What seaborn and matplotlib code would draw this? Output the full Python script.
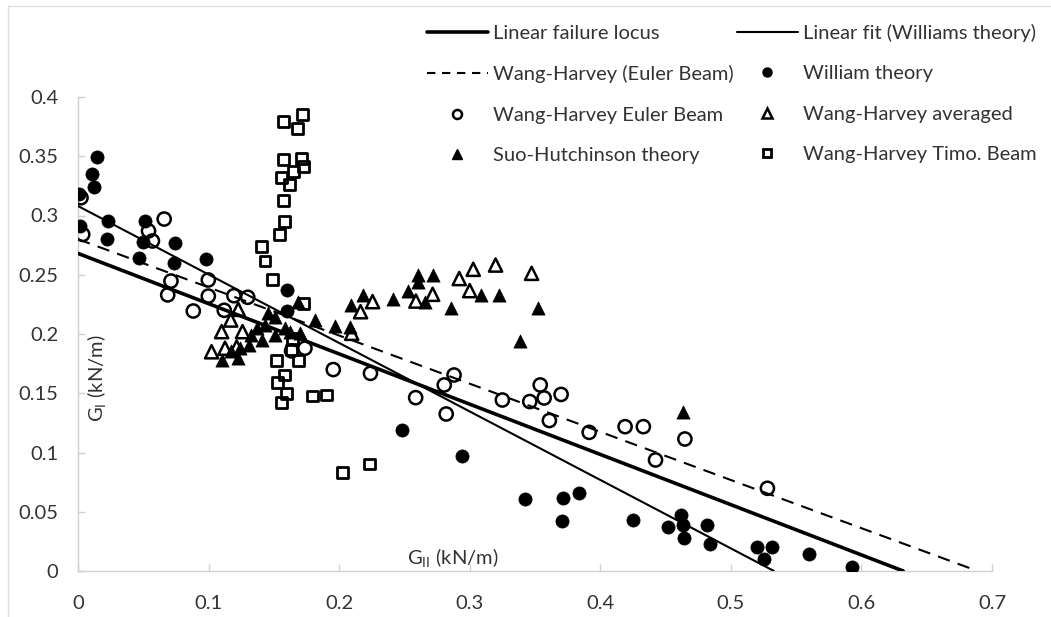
import matplotlib
matplotlib.use("Agg")
import matplotlib.pyplot as plt
from matplotlib.lines import Line2D
import seaborn as sns

# ---- series data (G_II, G_I) in kN/m ----
william_x = [0.001, 0.0015, 0.0105, 0.0145, 0.0123, 0.023, 0.0225, 0.0467, 0.051, 0.050,
             0.0743, 0.0738, 0.0978, 0.160, 0.160, 0.248, 0.294, 0.342, 0.3716, 0.384,
             0.371, 0.4252, 0.452, 0.4617, 0.463, 0.464, 0.482, 0.484, 0.520, 0.5316,
             0.5255, 0.5597, 0.593]
william_y = [0.318, 0.291, 0.335, 0.349, 0.324, 0.295, 0.280, 0.264, 0.295, 0.278,
             0.2765, 0.260, 0.263, 0.237, 0.219, 0.119, 0.097, 0.061, 0.062, 0.0655,
             0.042, 0.043, 0.0374, 0.0473, 0.0388, 0.028, 0.039, 0.0225, 0.020, 0.020,
             0.010, 0.0143, 0.003]

euler_x = [0.0023, 0.0036, 0.066, 0.054, 0.057, 0.0712, 0.0687, 0.0998, 0.0998, 0.0883,
           0.112, 0.1194, 0.130, 0.1636, 0.1738, 0.1955, 0.224, 0.2586, 0.2805, 0.288,
           0.282, 0.325, 0.346, 0.354, 0.357, 0.370, 0.361, 0.3915, 0.419, 0.433,
           0.4648, 0.4423, 0.528]
euler_y = [0.315, 0.284, 0.297, 0.287, 0.2785, 0.2447, 0.233, 0.2456, 0.232, 0.2194,
           0.220, 0.2323, 0.231, 0.1857, 0.188, 0.170, 0.1668, 0.1463, 0.157, 0.1654,
           0.1325, 0.1443, 0.143, 0.157, 0.146, 0.149, 0.127, 0.117, 0.1218, 0.1218,
           0.1114, 0.0937, 0.0698]

averaged_x = [0.1227, 0.117, 0.110, 0.126, 0.1023, 0.1126, 0.1215, 0.2256, 0.2164, 0.2096,
              0.2588, 0.2716, 0.292, 0.3027, 0.3198, 0.300, 0.3474]
averaged_y = [0.2208, 0.2118, 0.202, 0.202, 0.185, 0.188, 0.189, 0.2273, 0.2188, 0.2006,
              0.2278, 0.2335, 0.2468, 0.2546, 0.2582, 0.2366, 0.2512]

suo_x = [0.110, 0.1227, 0.117, 0.124, 0.131, 0.1325, 0.1406, 0.137, 0.1457, 0.1508,
         0.143, 0.1508, 0.1585, 0.1687, 0.170, 0.1623, 0.1815, 0.1968, 0.2083, 0.2088,
         0.2185, 0.2415, 0.253, 0.2606, 0.2606, 0.272, 0.2657, 0.286, 0.3086, 0.3226,
         0.3525, 0.3384, 0.4635]
suo_y = [0.178, 0.1795, 0.1857, 0.188, 0.1907, 0.199, 0.195, 0.2048, 0.2174, 0.214,
         0.2076, 0.199, 0.2048, 0.2273, 0.2006, 0.202, 0.2118, 0.2067, 0.2062, 0.2245,
         0.2329, 0.2293, 0.2366, 0.2498, 0.2443, 0.2498, 0.2266, 0.2222, 0.2329, 0.2329,
         0.2222, 0.1944, 0.1344]

timo_x = [0.172, 0.1572, 0.1682, 0.1572, 0.1712, 0.1725, 0.1649, 0.156, 0.1618, 0.1572,
          0.1585, 0.1541, 0.1406, 0.1432, 0.1488, 0.1725, 0.1641, 0.1636, 0.152, 0.1687,
          0.1585, 0.1526, 0.1597, 0.156, 0.1797, 0.1904, 0.2024, 0.2236]
timo_y = [0.3854, 0.3792, 0.3736, 0.3474, 0.3482, 0.3412, 0.337, 0.3322, 0.3263, 0.3125,
          0.2948, 0.2841, 0.2737, 0.2616, 0.2456, 0.2259, 0.196, 0.1865, 0.178, 0.178,
          0.1654, 0.1589, 0.150, 0.1421, 0.1477, 0.1485, 0.0833, 0.0903]

# ---- straight lines (end points) ----
locus_x = [0.0, 0.632]
locus_y = [0.268, 0.0]
fit_x = [0.0, 0.533]
fit_y = [0.308, 0.0]
wh_line_x = [0.0, 0.684]
wh_line_y = [0.280, 0.002]

x_ticks = [0, 0.1, 0.2, 0.3, 0.4, 0.5, 0.6, 0.7]
y_ticks = [0, 0.05, 0.1, 0.15, 0.2, 0.25, 0.3, 0.35, 0.4]

sns.set_theme(style="white")
plt.rcParams["font.family"] = ["Lato", "DejaVu Sans"]
plt.rcParams["mathtext.default"] = "regular"

TEXT = "#333333"
W, H = 1051, 617
fig = plt.figure(figsize=(W / 100, H / 100), dpi=100)
ax = fig.add_axes([78 / W, (H - 571) / H, (992 - 78) / W, (571 - 97) / H])

# lines
sns.lineplot(x=locus_x, y=locus_y, ax=ax, color="black", linewidth=2.6, zorder=3)
sns.lineplot(x=fit_x, y=fit_y, ax=ax, color="black", linewidth=1.5, zorder=3)
sns.lineplot(x=wh_line_x, y=wh_line_y, ax=ax, color="black", linewidth=1.5,
             linestyle=(0, (6, 4)), zorder=3)

ms = 90
sns.scatterplot(x=william_x, y=william_y, ax=ax, marker="o", s=ms, color="black",
                edgecolor="black", linewidth=0.5, zorder=4)
sns.scatterplot(x=euler_x, y=euler_y, ax=ax, marker="o", s=ms, facecolor="none",
                edgecolor="black", linewidth=1.8, zorder=4)
sns.scatterplot(x=averaged_x, y=averaged_y, ax=ax, marker="^", s=ms, facecolor="none",
                edgecolor="black", linewidth=1.8, zorder=4)
sns.scatterplot(x=suo_x, y=suo_y, ax=ax, marker="^", s=ms, color="black",
                edgecolor="black", linewidth=0.5, zorder=4)
sns.scatterplot(x=timo_x, y=timo_y, ax=ax, marker="s", s=62, facecolor="none",
                edgecolor="black", linewidth=2.0, zorder=4)

ax.set_xlim(0, 0.7)
ax.set_ylim(0, 0.4)
ax.set_xticks(x_ticks)
ax.set_xticklabels(["0" if v == 0 else f"{v:g}" for v in x_ticks])
ax.set_yticks(y_ticks)
ax.set_yticklabels(["0" if v == 0 else f"{v:g}" for v in y_ticks])
ax.tick_params(axis="both", direction="in", length=5, width=1, color="#d0d0d0",
               labelsize=14.5, labelcolor=TEXT)
ax.tick_params(axis="x", pad=17)
ax.tick_params(axis="y", pad=14)
ax.tick_params(axis="both", which="both", bottom=True, left=True)
for side in ["top", "right"]:
    ax.spines[side].set_visible(False)
for side in ["left", "bottom"]:
    ax.spines[side].set_color("#d0d0d0")
    ax.spines[side].set_linewidth(1)
ax.set_xlabel("")
ax.set_ylabel("")

ax.text(0.287, 0.011, "G$_{II}$ (kN/m)", ha="center", va="center", fontsize=14.5,
        color=TEXT)
ax.text(0.0145, 0.163, "G$_{I}$ (kN/m)", ha="center", va="center", rotation=90,
        fontsize=14.5, color=TEXT)

# legend (two columns, filled column by column)
handles = [
    Line2D([], [], color="black", linewidth=2.6),
    Line2D([], [], color="black", linewidth=1.5, linestyle=(0, (4, 3.2))),
    Line2D([], [], linestyle="none", marker="o", markersize=6.5, markerfacecolor="none",
           markeredgecolor="black", markeredgewidth=1.8),
    Line2D([], [], linestyle="none", marker="^", markersize=6.5, color="black"),
    Line2D([], [], color="black", linewidth=1.5),
    Line2D([], [], linestyle="none", marker="o", markersize=6.5, color="black"),
    Line2D([], [], linestyle="none", marker="^", markersize=6.5, markerfacecolor="none",
           markeredgecolor="black", markeredgewidth=1.8),
    Line2D([], [], linestyle="none", marker="s", markersize=6, markerfacecolor="none",
           markeredgecolor="black", markeredgewidth=2.0),
]
labels = ["Linear failure locus", "Wang-Harvey (Euler Beam)", "Wang-Harvey Euler Beam",
          "Suo-Hutchinson theory", "Linear fit (Williams theory)", "William theory",
          "Wang-Harvey averaged", "Wang-Harvey Timo. Beam"]
fig.legend(handles, labels, ncol=2, loc="upper left",
           bbox_to_anchor=(413 / W, 1 - 10 / H), bbox_transform=fig.transFigure,
           frameon=False, fontsize=14.5, handlelength=3.0, handletextpad=0.25,
           columnspacing=0.2, labelspacing=1.15, borderpad=0.2,
           labelcolor=TEXT)

# light outer frame of the chart area
fig.add_artist(Line2D([8 / W, 1], [1 - 6 / H, 1 - 6 / H], transform=fig.transFigure,
                      color="#e0e0e0", linewidth=1))
fig.add_artist(Line2D([8 / W, 8 / W], [0, 1 - 6 / H], transform=fig.transFigure,
                      color="#e0e0e0", linewidth=1))

fig.savefig("out.png", dpi=100, facecolor="white")
